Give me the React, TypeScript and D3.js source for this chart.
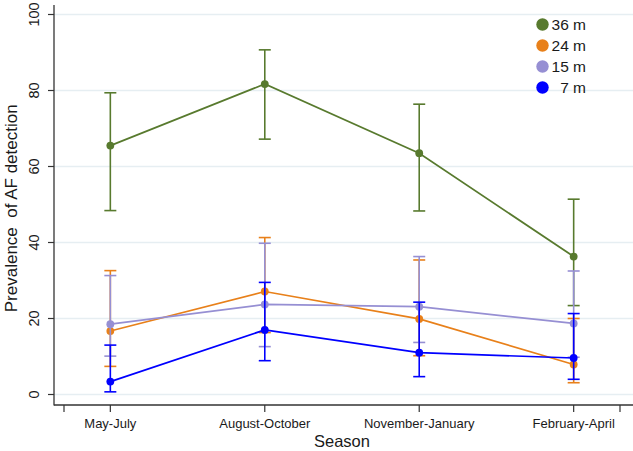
import React from "react";
import * as d3 from "d3";

const seasons = ["May-July", "August-October", "November-January", "February-April"];
const seriesNames = ["36 m", "24 m", "15 m", "7 m"];
const seriesColors = ["#587a2e", "#e8801a", "#968fd3", "#0000ff"];

const m36 = [65.5, 81.7, 63.5, 36.3];
const m36Lo = [48.4, 67.2, 48.3, 23.4];
const m36Hi = [79.4, 90.7, 76.4, 51.4];

const m24 = [16.7, 27.1, 19.9, 7.9];
const m24Lo = [7.4, 16.3, 10.2, 3.1];
const m24Hi = [32.6, 41.3, 35.4, 20.0];

const m15 = [18.5, 23.7, 23.1, 18.7];
const m15Lo = [10.1, 12.6, 13.7, 9.8];
const m15Hi = [31.3, 39.8, 36.3, 32.5];

const m7 = [3.4, 17.0, 11.0, 9.6];
const m7Lo = [0.7, 8.9, 4.7, 4.0];
const m7Hi = [13.0, 29.5, 24.3, 21.3];

const yTicks = [0, 20, 40, 60, 80, 100];
const xTicksExtra = [0.7, 4.3];

const FONT = "'Liberation Sans', Arial, Helvetica, sans-serif";

export default function App() {
  const W = 633, H = 451;
  const x = d3.scaleLinear().domain([0.7, 4.3]).range([64, 620]);
  const y = d3.scaleLinear().domain([0, 100]).range([394.5, 14.5]);
  const axisX = 54, axisY = 405;

  const series = [
    { v: m36, lo: m36Lo, hi: m36Hi },
    { v: m24, lo: m24Lo, hi: m24Hi },
    { v: m15, lo: m15Lo, hi: m15Hi },
    { v: m7, lo: m7Lo, hi: m7Hi },
  ];
  const line = d3.line<number>().x((_, i) => x(i + 1)).y((d) => y(d));
  const capW = 6;

  return (
    <svg width={W} height={H} style={{ position: "absolute", left: 0, top: 0, background: "#fff" }} fontFamily={FONT}>
      {yTicks.map((t) => (
        <line key={"g" + t} x1={axisX} x2={W} y1={y(t)} y2={y(t)} stroke="#e6eef2" strokeWidth={1.6} />
      ))}
      {series.map((s, si) => (
        <g key={"s" + si} stroke={seriesColors[si]} fill={seriesColors[si]}>
          {s.v.map((_, i) => (
            <g key={i} strokeWidth={1.6}>
              <line x1={x(i + 1)} x2={x(i + 1)} y1={y(s.lo[i])} y2={y(s.hi[i])} />
              <line x1={x(i + 1) - capW} x2={x(i + 1) + capW} y1={y(s.lo[i])} y2={y(s.lo[i])} />
              <line x1={x(i + 1) - capW} x2={x(i + 1) + capW} y1={y(s.hi[i])} y2={y(s.hi[i])} />
            </g>
          ))}
          <path d={line(s.v) || ""} fill="none" strokeWidth={1.7} />
          {s.v.map((d, i) => (
            <circle key={"c" + i} cx={x(i + 1)} cy={y(d)} r={3.9} stroke="none" />
          ))}
        </g>
      ))}
      {/* axes */}
      <line x1={axisX} x2={axisX} y1={5} y2={axisY + 0.5} stroke="#333" strokeWidth={1.3} />
      <line x1={axisX} x2={W} y1={axisY} y2={axisY} stroke="#333" strokeWidth={1.3} />
      {yTicks.map((t) => (
        <g key={"yt" + t}>
          <line x1={axisX - 6} x2={axisX} y1={y(t)} y2={y(t)} stroke="#333" strokeWidth={1.2} />
          <text transform={`translate(38.5,${y(t)}) rotate(-90)`} textAnchor="middle" fontSize={14.5} fill="#1a1a1a">
            {t}
          </text>
        </g>
      ))}
      {[...xTicksExtra, 1, 2, 3, 4].map((t) => (
        <line key={"xt" + t} x1={x(t)} x2={x(t)} y1={axisY} y2={axisY + 7} stroke="#333" strokeWidth={1.2} />
      ))}
      {seasons.map((s, i) => (
        <text key={s} x={x(i + 1)} y={428} textAnchor="middle" fontSize={13} fill="#1a1a1a">
          {s}
        </text>
      ))}
      <text x={x(2.5)} y={447} textAnchor="middle" fontSize={16.5} fill="#1a1a1a">Season</text>
      <text transform={`translate(17,${y(49)}) rotate(-90)`} textAnchor="middle" fontSize={17} fill="#1a1a1a" style={{ whiteSpace: "pre" }}>
        {"Prevalence  of AF detection"}
      </text>
      {/* legend */}
      {seriesNames.map((n, i) => (
        <g key={n}>
          <circle cx={542.5} cy={24.5 + i * 21} r={6.2} fill={seriesColors[i]} />
          <text x={586} y={30 + i * 21} textAnchor="end" fontSize={15.5} fill="#1a1a1a">
            {n}
          </text>
        </g>
      ))}
    </svg>
  );
}
